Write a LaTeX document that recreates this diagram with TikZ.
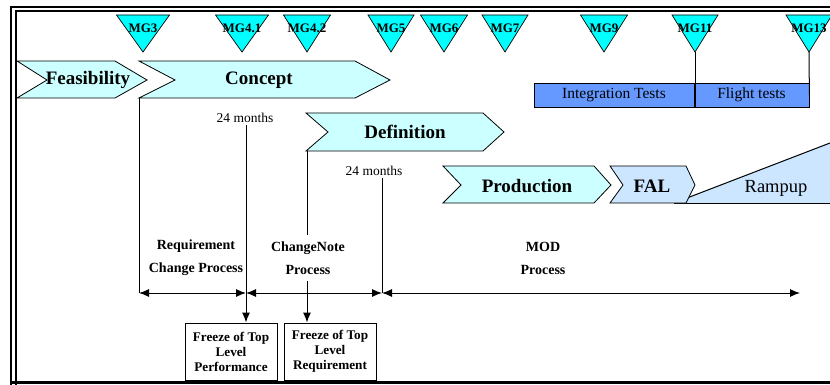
\documentclass[tikz,border=0pt]{standalone}
\usepackage{fontspec}
\setmainfont{Liberation Serif}
\usetikzlibrary{arrows.meta}
\definecolor{mgcyan}{HTML}{00FFFF}
\definecolor{phasecol}{HTML}{CCFFFF}
\definecolor{falcol}{HTML}{CCE6FF}
\definecolor{testcol}{HTML}{6699FF}

\begin{document}
\begin{tikzpicture}[x=1pt, y=-1pt, >={Latex[length=10pt,width=8pt]}, line width=1pt,
  mg/.style={fill=mgcyan, draw=black, line width=0.7pt},
  mglbl/.style={font=\fontsize{13}{14}\selectfont\bfseries, inner sep=0pt},
  phase/.style={fill=phasecol, draw=black, line width=0.8pt},
  phaselbl/.style={font=\fontsize{19}{21}\selectfont\bfseries},
  testbar/.style={fill=testcol, draw=black, line width=0.8pt, minimum height=24, inner sep=0pt, font=\fontsize{15.5}{17}\selectfont},
  months/.style={font=\fontsize{13.5}{15}\selectfont, inner sep=2pt},
  proclbl/.style={font=\fontsize{14}{23}\selectfont\bfseries, align=center, inner sep=6pt},
  frzbox/.style={draw, line width=1pt, minimum width=92, minimum height=57, inner sep=0pt, align=center, font=\fontsize{13.2}{15}\selectfont\bfseries}]
\useasboundingbox (0,0) rectangle (830,385);

% frame
\draw[line width=2pt] (11,385) -- (11,7) -- (830,7);
\draw[line width=2pt] (16,385) -- (16,11) -- (830,11);
\draw[line width=3pt] (11,382.5) -- (830,382.5);

% milestones
\foreach \id/\lbl/\x/\w in {mga/MG3/143/26.5, mgb/MG4.1/242/26.5, mgc/MG4.2/307/23.5,
    mgd/MG5/391/23, mge/MG6/444/23.5, mgf/MG7/505/23, mgg/MG9/604/23.5,
    mgh/MG11/695/23, mgi/MG13/809/23}{
  \draw[mg] (\x-\w,15) -- (\x+\w,15) -- (\x,52) -- cycle;
  \coordinate (\id tip) at (\x,52);
  \node[mglbl] (\id) at (\x,28) {\lbl};
}

% test bar
\node[testbar, minimum width=160] (integ) at (614,95) {Integration Tests};
\node[testbar, minimum width=115] (flight) at (751.5,95) {Flight tests};
\draw (mghtip) -- (mghtip |- flight.south);
\draw (mgitip) -- (flight.east);

% phases
\draw[phase] (17,61) -- (115,61) -- (147,80) -- (115,98) -- (17,98) -- (47,80) -- cycle;
\node[phaselbl] (feas) at (88,80) {Feasibility};
\draw[phase] (139,61) -- (355,61) -- (390,80) -- (355,98) -- (139,98) -- (175,80) -- cycle;
\node[phaselbl] (concept) at (259,80) {Concept};
\draw[phase] (306,113) -- (483,113) -- (504,132) -- (483,151) -- (306,151) -- (328,132) -- cycle;
\node[phaselbl] (defin) at (405,132) {Definition};
\draw[phase] (443,166) -- (594,166) -- (611,185) -- (594,203) -- (443,203) -- (461,185) -- cycle;
\node[phaselbl] (prod) at (527,186) {Production};
\fill[falcol] (674,203) -- (830,143) -- (830,203) -- cycle;
\draw (674,203) -- (830,143);
\draw (674,203) -- (830,203);
\node[font=\fontsize{18.5}{20}\selectfont] (ramp) at (776,188) {Rampup};
\draw[phase, fill=falcol] (610,166) -- (686,166) -- (695,185) -- (686,203) -- (610,203) -- (623,185) -- cycle;
\node[phaselbl] (fal) at (652,186) {FAL};

\coordinate (cptbl) at (139,98);
\coordinate (defbl) at (307,151);
\coordinate (ra) at (139,293);
\coordinate (rb) at (246,293);
\coordinate (rc) at (382,293);
\coordinate (rd) at (800,293);

\node[months] (mon1) at (245,118) {24 months};
\node[months] (mon2) at (374,171) {24 months};

\node[proclbl] (reqlbl) at (196,258) {Requirement\\Change Process};
\node[proclbl] (cnote) at (308,258) {ChangeNote\\Process};
\node[proclbl] (modlbl) at (543,258) {MOD\\Process};

\node[frzbox] (frzperf) at (231,351.5) {Freeze of Top\\Level\\Performance};
\node[frzbox] (frzreq) at (330,351.5) {Freeze of Top\\Level\\Requirement};

\draw (cptbl) -- (ra);
\draw[->] (mon1.south -| rb) -- (rb |- frzperf.north);
\draw (defbl) -- (defbl |- cnote.north);
\draw[->] (defbl |- cnote.south) -- (defbl |- frzreq.north);
\draw (mon2.south -| rc) -- (rc);
\draw[<->] (ra) -- (rb);
\draw[<->] (rb) -- (rc);
\draw[<->] (rc) -- (rd);
\end{tikzpicture}
\end{document}
